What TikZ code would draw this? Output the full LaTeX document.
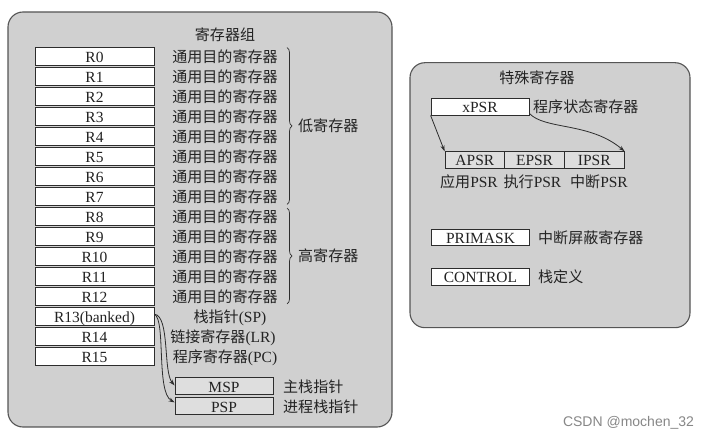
\documentclass[tikz,border=0pt]{standalone}
\usepackage{fontspec}
\setmainfont{Liberation Serif}
\newfontfamily\cjk{Noto Sans CJK SC}[Scale=0.97]
\newfontfamily\wmfont{Liberation Sans}
\usetikzlibrary{decorations.pathreplacing,arrows.meta,calc}
\definecolor{panelfill}{RGB}{208,208,208}
\definecolor{panelline}{RGB}{85,85,85}
\definecolor{boxline}{RGB}{45,45,45}
\definecolor{boxgray}{RGB}{222,222,222}
\definecolor{txt}{RGB}{35,35,35}
\definecolor{wmgray}{RGB}{135,135,135}
\tikzset{
  every node/.style={font=\fontsize{15.5}{17}\selectfont, text=txt, inner sep=0pt, text height=14pt, text depth=2pt},
  panel/.style={draw=panelline, fill=panelfill, line width=1.1pt, rounded corners=15pt},
  regbox/.style={draw=boxline, fill=white, line width=0.8pt, minimum width=119pt, minimum height=17.7pt},
  graybox/.style={draw=boxline, fill=boxgray, line width=0.8pt, minimum height=17pt},
  whitebox/.style={draw=boxline, fill=white, line width=0.8pt, minimum width=98pt, minimum height=16.7pt},
  arr/.style={draw=boxline, line width=0.8pt, -{Stealth[length=6pt,width=4pt]}},
  bracestyle/.style={draw=boxline, line width=0.7pt, decorate, decoration={brace, amplitude=5pt}}
}
\begin{document}
\begin{tikzpicture}[x=1pt,y=-1pt]
\useasboundingbox (0,0) rectangle (710,438);
\fill[white] (0,0) rectangle (710,438);

% ---------- left panel ----------
\draw[panel] (8,12) rectangle (392,427);
\node (t1) at (225,35) {\cjk 寄存器组};

\foreach \i in {0,...,12} {
  \node[regbox] (r\i) at (94.5,{56.15+20*\i}) {R\i};
  \node (g\i) at (225,{56.15+20*\i}) {\cjk 通用目的寄存器};
}
\node[regbox] (r13) at (94.5,316.15) {R13(banked)};
\node[regbox] (r14) at (94.5,336.15) {R14};
\node[regbox] (r15) at (94.5,356.15) {R15};
\node (l13) at (230,316.15) {{\cjk 栈指针}(SP)};
\node (l14) at (223,336.15) {{\cjk 链接寄存器}(LR)};
\node (l15) at (225,356.15) {{\cjk 程序寄存器}(PC)};

\coordinate (b1s) at (287,47.5);
\coordinate (b1e) at (287,204.5);
\coordinate (b2s) at (287,208);
\coordinate (b2e) at (287,304);
\draw[bracestyle] (b1s) -- (b1e);
\draw[bracestyle] (b2s) -- (b2e);
\node[anchor=west] (low) at (298,126) {\cjk 低寄存器};
\node[anchor=west] (high) at (298,256) {\cjk 高寄存器};

\node[graybox, minimum width=98pt] (msp) at (224,386.4) {MSP};
\node[graybox, minimum width=98pt] (psp) at (224,406.4) {PSP};
\node[anchor=west] (lmsp) at (283,386.4) {\cjk 主栈指针};
\node[anchor=west] (lpsp) at (283,406.4) {\cjk 进程栈指针};

\draw[arr] ($(r13.east)+(0,-2)$) .. controls (170,316) and (163,372) .. ($(msp.west)+(0,-1)$);
\draw[arr] ($(r13.east)+(0,-2)$) .. controls (166,320) and (156,392) .. ($(psp.west)+(0,-4)$);

% ---------- right panel ----------
\draw[panel] (410,62.7) rectangle (690,327.7);
\node (t2) at (537,78) {\cjk 特殊寄存器};

\node[whitebox] (xpsr) at (480,106.7) {xPSR};
\node[anchor=west] (lxpsr) at (533,106.7) {\cjk 程序状态寄存器};

\node[graybox, minimum width=59.7pt, minimum height=16.6pt] (apsr) at (474.85,160) {APSR};
\node[graybox, minimum width=59.7pt, minimum height=16.6pt] (epsr) at (534.55,160) {EPSR};
\node[graybox, minimum width=59.7pt, minimum height=16.6pt] (ipsr) at (594.25,160) {IPSR};
\node (lapsr) at (469,182) {{\cjk 应用}PSR};
\node (lepsr) at (532.5,182) {{\cjk 执行}PSR};
\node (lipsr) at (599,182) {{\cjk 中断}PSR};

\draw[arr] (xpsr.south west) -- (apsr.north west);
\draw[arr] ($(xpsr.south east)+(0,-2)$) .. controls (545,130) and (590,122) .. (ipsr.north east);

\node[whitebox] (primask) at (480.5,237.3) {PRIMASK};
\node[anchor=west] (lprimask) at (538,237.3) {\cjk 中断屏蔽寄存器};
\node[whitebox] (control) at (480.5,276.7) {CONTROL};
\node[anchor=west] (lcontrol) at (538,276.7) {\cjk 栈定义};

% ---------- watermark ----------
\node[font=\wmfont\fontsize{14}{16}\selectfont, text=wmgray] (wm) at (628.5,421) {CSDN @mochen\_32};
\end{tikzpicture}
\end{document}
